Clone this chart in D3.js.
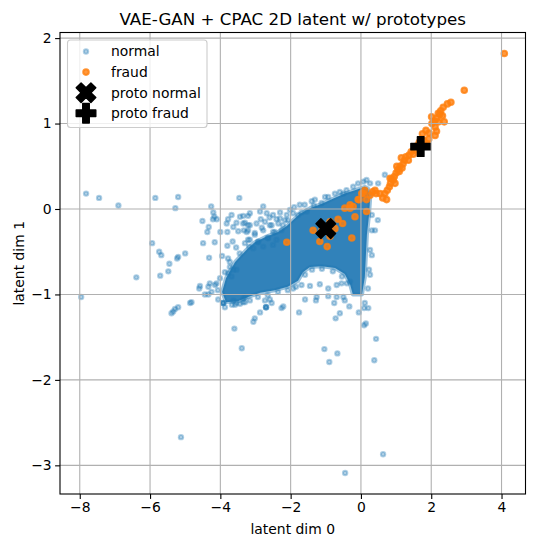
<!DOCTYPE html>
<html>
<head>
<meta charset="utf-8">
<script src="https://cdn.jsdelivr.net/npm/d3@7"></script>
<style>
  body { margin: 0; background: #fff; }
  text { font-family: "DejaVu Sans", sans-serif; fill: #000; }
</style>
</head>
<body>
<script>
//data (latent dim 0, latent dim 1)
var normalPts = [
  [-7.82,0.18],[-7.45,0.13],[-6.90,0.04],[-6.39,-0.80],[-7.96,-1.03],
  [-5.85,0.13],[-5.20,0.14],[-5.28,0.01],[-5.94,-0.40],[-5.74,-0.50],[-5.68,-0.54],[-5.45,-0.64],[-5.20,-0.56],[-5.23,-0.58],[-5.00,-0.52],[-5.48,-0.73],[-5.71,-0.78],
  [-4.26,0.03],[-4.20,-0.04],[-4.17,-0.09],[-4.21,-0.12],[-4.10,-0.12],[-4.51,-0.14],[-4.33,-0.21],[-4.37,-0.27],[-4.00,-0.27],[-4.16,-0.39],[-4.49,-0.40],[-4.32,-0.57],[-3.80,-0.43],[-3.78,-0.58],
  [-3.46,0.13],[-3.68,-0.07],[-3.78,-0.12],[-3.82,-0.17],[-3.54,-0.16],[-3.44,-0.09],[-3.35,-0.08],[-3.21,-0.08],[-3.30,-0.16],[-3.21,-0.19],[-3.63,-0.21],[-3.49,-0.26],[-3.33,-0.25],[-3.21,-0.25],[-3.80,-0.27],[-3.21,-0.36],[-3.18,-0.44],
  [-3.73,-0.68],[-3.63,-0.71],[-3.54,-0.71],[-3.78,-0.75],[-3.68,-0.79],
  [-4.58,-0.90],[-4.60,-0.93],[-4.30,-0.87],[-4.34,-0.91],[-4.11,-0.87],[-4.44,-1.00],[-4.34,-1.00],[-4.25,-0.97],[-4.06,-1.06],[-3.92,-1.10],[-3.92,-1.10],[-3.92,-1.10],
  [-4.82,-1.09],[-4.86,-1.10],[-5.20,-1.15],[-5.29,-1.17],[-5.34,-1.20],[-5.39,-1.22],
  [-3.63,-1.07],[-3.54,-1.10],[-3.58,-1.12],[-3.35,-1.09],[-3.30,-1.03],[-3.60,-1.40],[-3.39,-1.63],[-3.35,-1.05],[-3.30,-1.09],
  [-2.70,-1.15],[-2.70,-1.15],[-2.70,-1.15],[-2.73,-1.07],[-2.59,-1.06],[-2.54,-1.10],[-2.87,-1.21],[-3.02,-1.28],[-3.06,-1.32],[-2.21,-1.14],[-2.26,-1.16],
  [-1.76,-1.21],[-1.59,-1.06],[-1.26,-1.03],[-1.28,-1.07],[-0.93,-1.02],[-0.76,-1.10],[-0.69,-1.03],[-0.50,-1.03],[-0.46,-1.07],[-0.60,-1.22],[-0.72,-1.28],
  [-0.33,-1.14],[-0.06,-1.21],[0.11,-1.10],[0.09,-1.16],[0.21,-1.16],[0.14,-1.34],[0.09,-1.36],[0.43,-1.52],
  [-1.04,-1.64],[-0.67,-1.69],[-0.90,-1.79],[0.38,-1.77],[0.63,-2.87],[-0.45,-3.09],[-5.12,-2.67],
  [-1.93,-0.93],[-1.69,-0.89],[-1.45,-0.90],[-1.17,-0.88],[-0.93,-0.93],[-0.69,-0.89],[-0.55,-0.87],[-0.31,-0.85],
  [-2.78,0.03],[-3.16,-0.05],[-1.40,0.09],[-1.93,-0.05],[-1.69,-0.04],[-1.54,-0.03],[-1.12,0.07],[-0.93,0.14],[-0.74,0.18],[-0.60,0.20],[-0.41,0.22],[-0.22,0.26],[-0.08,0.30],[0.07,0.32],[0.16,0.34],
  [-2.87,-0.03],[-2.68,-0.05],[-2.50,-0.07],[-2.30,-0.04],[-2.11,-0.07],[0.68,0.40],[0.49,0.30],[0.26,0.30],[0.30,0.18],[-0.50,0.18],
  [0.40,-0.25],[0.31,-0.54],[0.26,-0.77],[0.48,-0.13],
  [-3.02,-0.30],[-2.82,-0.22],[-2.59,-0.19],[-2.45,-0.27],[-2.22,-0.19],[-2.93,-0.39],[-2.65,-0.34],[-2.08,-0.13],[-1.79,-0.07],[-1.34,0.04],
  [-3.35,-0.17],[-3.16,-0.19],[-2.97,-0.17],[-2.73,-0.15],[-2.54,-0.19],[-2.35,-0.17],[-2.16,-0.13],[-3.25,-0.27],[-3.02,-0.28],[-2.78,-0.25],
  [-2.50,-0.27],[-2.26,-0.25],[-3.16,-0.36],[-2.92,-0.38],[-2.64,-0.34],[-2.40,-0.36],[-3.06,-0.46],[-2.78,-0.44],[-2.50,-0.42],
  [-3.87,-1.15],[-3.67,-1.12],[-3.44,-1.11],[-3.16,-1.07],[-2.93,-1.03],[-2.65,-1.01],[-2.36,-0.97],[-2.08,-0.95],[-1.85,-0.91],
  [-4.07,-0.95],[-4.15,-0.89],[-4.01,-0.81],[-3.87,-0.74],[-3.73,-0.62],
  [-1.59,-0.77],[-1.39,-0.71],[-1.11,-0.70],[-0.80,-0.73],[-0.54,-0.79],[-0.40,-0.87],
  [0.31,-0.25],[0.26,-0.48],[0.23,-0.71],[0.20,-0.93],[0.31,-0.07],
  [-1.74,0.05],[-1.31,0.11],[-1.02,0.14],[-2.02,-0.01],[-2.30,-0.11],
  [-3.45,-0.52],[-3.30,-0.40],[-3.55,-0.45],[-2.85,-0.12],[-2.60,-0.10],[-2.40,-0.12],[-1.90,0.02],[-1.60,0.05],[-3.95,-0.55],[-3.65,-0.38]
];

//outline of the region where the normal points overlap into a solid mass
var denseCore = [
  [-3.84,-1.09],[-3.95,-0.97],[-3.84,-0.81],[-3.58,-0.62],[-3.24,-0.47],[-3.02,-0.39],[-2.73,-0.33],[-2.36,-0.27],[-2.11,-0.20],[-1.93,-0.13],[-1.74,-0.06],[-1.45,0.01],
  [-1.11,0.06],[-0.80,0.12],[-0.46,0.18],[-0.17,0.22],[0.11,0.26],[0.20,0.24],[0.26,0.11],[0.23,-0.07],[0.17,-0.30],[0.14,-0.55],[0.11,-0.80],[0.03,-1.00],
  [-0.23,-1.00],[-0.31,-0.88],[-0.46,-0.76],[-0.74,-0.69],[-1.11,-0.67],[-1.45,-0.68],[-1.65,-0.74],[-1.79,-0.84],[-2.08,-0.91],[-2.45,-0.95],[-2.87,-0.98],[-3.21,-1.03],[-3.50,-1.08]
];

var fraudPts = [
  [4.08,1.82],[2.94,1.39],[2.56,1.25],[2.46,1.23],[2.34,1.19],[2.27,1.15],[2.25,1.11],[2.32,1.09],[2.15,1.06],[2.09,1.03],[2.21,1.02],[2.37,1.02],[2.02,1.00],
  [2.11,0.96],[2.15,0.91],[2.11,0.86],[1.94,0.89],[1.85,0.92],[1.75,0.88],[1.93,0.82],[1.79,0.80],[1.89,0.76],[1.66,0.78],[1.60,0.74],[1.53,0.69],[1.43,0.67],
  [1.37,0.63],[1.28,0.61],[1.24,0.57],[1.15,0.60],[1.20,0.53],[1.11,0.50],[1.05,0.46],[1.00,0.42],[0.95,0.38],[0.88,0.35],[0.84,0.30],[0.81,0.26],[0.75,0.22],
  [0.68,0.18],[0.54,0.18],[0.43,0.18],[0.33,0.20],[0.62,0.13],[0.73,0.11],[0.07,0.18],[-0.05,0.11],[-0.22,0.03],[-0.31,0.01],[-0.17,-0.09],[1.35,0.57],[1.49,0.64],
  [1.09,0.44],[1.17,0.48],[0.92,0.34],[0.97,0.30],[2.01,1.08],[2.20,1.12],
  [-2.11,-0.39],[-1.36,-0.25],[-1.17,-0.38],[-0.96,-0.44],[-0.88,-0.32],[-0.74,-0.23],[-0.65,-0.12],[-0.52,-0.17],[-0.26,-0.34],[-0.46,0.01],[-0.31,0.05],
  [-0.08,0.11],[0.02,0.18],[0.11,0.22],[0.16,-0.03],[0.16,0.11],[0.26,0.16],[0.40,0.22],[0.83,0.36],[1.02,0.50],[-1.11,-0.25],[-0.88,-0.15]
];

var protoNormal = [-1.00, -0.23];
var protoFraud = [1.70, 0.73];

var xTicks = [-8, -6, -4, -2, 0, 2, 4];
var yTicks = [-3, -2, -1, 0, 1, 2];
var legendLabels = ["normal", "fraud", "proto normal", "proto fraud"];

(function(){

var width = 534, height = 547;
var left = 60, right = 525.5, top = 32.5, bottom = 494;
var blue = "#1f77b4", orange = "#ff7f0e", gridColor = "#b0b0b0";

var svg = d3.select("body").append("svg")
  .attr("width", width)
  .attr("height", height);

//domain like matplotlib: data limits + 5% margins
var allPts = normalPts.concat(fraudPts);
var xExt = d3.extent(allPts, function(d){ return d[0]; }),
  yExt = d3.extent(allPts, function(d){ return d[1]; });
var xPad = (xExt[1] - xExt[0]) * 0.05, yPad = (yExt[1] - yExt[0]) * 0.05;

var x = d3.scaleLinear().domain([xExt[0] - xPad, xExt[1] + xPad]).range([left, right]);
var y = d3.scaleLinear().domain([yExt[0] - yPad, yExt[1] + yPad]).range([bottom, top]);

function fmt(v){ return String(v).replace("-", "\u2212"); }

var plot = svg.append("g");

//dense mass of normal points
plot.append("path")
  .datum(denseCore)
  .attr("d", d3.line().x(function(d){ return x(d[0]); }).y(function(d){ return y(d[1]); }).curve(d3.curveLinearClosed))
  .attr("fill", blue)
  .attr("fill-opacity", 0.92)
  .attr("stroke", blue)
  .attr("stroke-opacity", 0.45)
  .attr("stroke-width", 4)
  .attr("stroke-linejoin", "round");

plot.selectAll(".normal")
  .data(normalPts)
  .enter()
  .append("circle")
  .attr("class", "normal")
  .attr("cx", function(d){ return x(d[0]); })
  .attr("cy", function(d){ return y(d[1]); })
  .attr("r", 2.2)
  .attr("fill", blue)
  .attr("fill-opacity", 0.35)
  .attr("stroke", blue)
  .attr("stroke-opacity", 0.35)
  .attr("stroke-width", 2);

plot.selectAll(".fraud")
  .data(fraudPts)
  .enter()
  .append("circle")
  .attr("class", "fraud")
  .attr("cx", function(d){ return x(d[0]); })
  .attr("cy", function(d){ return y(d[1]); })
  .attr("r", 2.8)
  .attr("fill", orange)
  .attr("fill-opacity", 0.8)
  .attr("stroke", orange)
  .attr("stroke-opacity", 0.8)
  .attr("stroke-width", 2);

//filled X and filled plus, matplotlib marker shapes
var xShape = [[-1,-2],[0,-1],[1,-2],[2,-1],[1,0],[2,1],[1,2],[0,1],[-1,2],[-2,1],[-1,0],[-2,-1]].map(function(p){ return [p[0]/4, p[1]/4]; });
var plusShape = [[-1,-3],[-1,-1],[-3,-1],[-3,1],[-1,1],[-1,3],[1,3],[1,1],[3,1],[3,-1],[1,-1],[1,-3]].map(function(p){ return [p[0]/6, p[1]/6]; });

function markerPath(shape, cx, cy, size){
  return "M" + shape.map(function(p){ return (cx + p[0]*size) + "," + (cy + p[1]*size); }).join("L") + "Z";
}

plot.append("path")
  .attr("d", markerPath(xShape, x(protoNormal[0]), y(protoNormal[1]), 19.6))
  .attr("fill", "#000").attr("stroke", "#000").attr("stroke-width", 1.4).attr("stroke-linejoin", "round");
plot.append("path")
  .attr("d", markerPath(plusShape, x(protoFraud[0]), y(protoFraud[1]), 19.6))
  .attr("fill", "#000").attr("stroke", "#000").attr("stroke-width", 1.4).attr("stroke-linejoin", "round");

//grid on top of the scatter
var grid = svg.append("g").attr("stroke", gridColor).attr("stroke-width", 1.1);
grid.selectAll(".gx").data(xTicks).enter().append("line")
  .attr("x1", function(d){ return x(d); }).attr("x2", function(d){ return x(d); })
  .attr("y1", top).attr("y2", bottom);
grid.selectAll(".gy").data(yTicks).enter().append("line")
  .attr("y1", function(d){ return y(d); }).attr("y2", function(d){ return y(d); })
  .attr("x1", left).attr("x2", right);

//axes
var xAxis = svg.append("g")
  .attr("transform", "translate(0," + bottom + ")")
  .call(d3.axisBottom(x).tickValues(xTicks).tickFormat(fmt).tickSizeInner(4.9).tickSizeOuter(0).tickPadding(3.5));
var yAxis = svg.append("g")
  .attr("transform", "translate(" + left + ",0)")
  .call(d3.axisLeft(y).tickValues(yTicks).tickFormat(fmt).tickSizeInner(4.9).tickSizeOuter(0).tickPadding(3.5));
[xAxis, yAxis].forEach(function(a){
  a.select(".domain").remove();
  a.selectAll(".tick line").attr("stroke", "#000").attr("stroke-width", 1.1);
  a.selectAll(".tick text").style("font-family", "DejaVu Sans").style("font-size", "13.9px").attr("fill", "#000");
});

//frame
svg.append("rect")
  .attr("x", left).attr("y", top)
  .attr("width", right - left).attr("height", bottom - top)
  .attr("fill", "none").attr("stroke", "#000").attr("stroke-width", 1.1);

//titles
svg.append("text")
  .attr("x", (left + right) / 2).attr("y", 25)
  .attr("text-anchor", "middle")
  .style("font-size", "16.7px")
  .text("VAE-GAN + CPAC 2D latent w/ prototypes");
svg.append("text")
  .attr("x", (left + right) / 2).attr("y", 534)
  .attr("text-anchor", "middle")
  .style("font-size", "13.9px")
  .text("latent dim 0");
svg.append("text")
  .attr("transform", "translate(24," + ((top + bottom) / 2) + ") rotate(-90)")
  .attr("text-anchor", "middle")
  .style("font-size", "13.9px")
  .text("latent dim 1");

//legend
var legend = svg.append("g");
legend.append("rect")
  .attr("x", 67.5).attr("y", 40).attr("width", 139.5).attr("height", 87.5)
  .attr("rx", 3).attr("fill", "#fff").attr("fill-opacity", 0.8)
  .attr("stroke", "#cccccc").attr("stroke-width", 1.1);

var rows = legend.selectAll(".row")
  .data(legendLabels)
  .enter()
  .append("g")
  .attr("transform", function(d, i){ return "translate(86," + (51.5 + i * 20.6) + ")"; });

rows.append("text")
  .attr("x", 25).attr("dy", "0.35em")
  .style("font-size", "13.9px")
  .text(function(d){ return d; });

rows.each(function(d, i){
  var g = d3.select(this);
  if (i == 0){
    g.append("circle").attr("r", 2.2).attr("fill", blue).attr("fill-opacity", 0.35)
      .attr("stroke", blue).attr("stroke-opacity", 0.35).attr("stroke-width", 2);
  } else if (i == 1){
    g.append("circle").attr("r", 2.8).attr("fill", orange).attr("fill-opacity", 0.8)
      .attr("stroke", orange).attr("stroke-opacity", 0.8).attr("stroke-width", 2);
  } else {
    g.append("path").attr("d", markerPath(i == 2 ? xShape : plusShape, 0, 0, 19.6))
      .attr("fill", "#000").attr("stroke", "#000").attr("stroke-width", 1.4).attr("stroke-linejoin", "round");
  }
});

})();
</script>
</body>
</html>
